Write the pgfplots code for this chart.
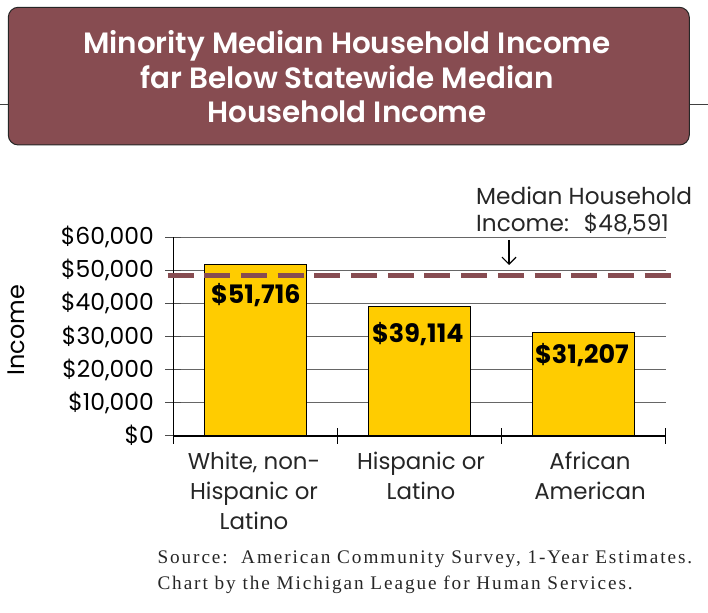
\documentclass[border=0pt]{standalone}
\usepackage{fontspec}
\setmainfont{Poppins}
\newfontfamily\srcfont{Liberation Serif}[LetterSpace=10]
\newfontfamily\titlefont{Poppins SemiBold}
\usepackage{pgfplots}
\pgfplotsset{compat=1.18}
\usetikzlibrary{arrows.meta}
\definecolor{titlebg}{RGB}{135,76,81}
\definecolor{barfill}{RGB}{255,204,0}
\begin{document}
\begin{tikzpicture}[x=1bp,y=1bp]
\path[use as bounding box] (0,0) rectangle (708,613);
% line behind title box
\draw[black!75, line width=0.9bp] (0,509) -- (708,509);
\draw[fill=titlebg, draw=black!85, line width=1bp, rounded corners=10bp] (8.3,605.7) rectangle (689.3,468);
\begin{scope}[every node/.style={anchor=base, text=white, inner sep=0, font=\titlefont\fontsize{29.5}{29.5}\selectfont}]
\node at (347,559.7) {Minority Median Household Income};
\node at (347,524.7) {far Below Statewide Median};
\node at (347,490.7) {Household Income};
\end{scope}
\begin{axis}[
  at={(173.3bp,177.3bp)}, anchor=south west,
  scale only axis, width=492.4bp, height=198.4bp,
  xmin=0, xmax=3, ymin=0, ymax=60000,
  clip=false,
  axis x line*=bottom, axis y line*=left,
  x axis line style={line width=2bp},
  y axis line style={line width=1bp},
  xtick={0,1,2,3}, xticklabels={},
  ytick={0,10000,20000,30000,40000,50000,60000},
  yticklabels={{\$0},{\$10,000},{\$20,000},{\$30,000},{\$40,000},{\$50,000},{\$60,000}},
  scaled y ticks=false,
  /pgf/number format/assume math mode=true,
  major tick length=16bp, tick align=center,
  x tick style={black, line width=1.3bp},
  y tick style={black!70, line width=0.8bp},
  ymajorgrids, grid style={black!60, line width=0.8bp},
  yticklabel style={font=\fontsize{23.5}{23.5}\selectfont, anchor=east, xshift=-8bp},
]
\addplot[ybar, bar width=0.621, fill=barfill, draw=black, line width=1.5bp]
  coordinates {(0.5,51716) (1.5,39114) (2.5,31207)};
\addplot[titlebg, line width=5bp, dash pattern=on 26bp off 10.7bp]
  coordinates {(-0.035,48591) (3.04,48591)};
\node[font=\fontsize{25.5}{25.5}\selectfont\bfseries] at (axis cs:0.503,42550) {\$51,716};
\node[font=\fontsize{25.5}{25.5}\selectfont\bfseries] at (axis cs:1.49,30760) {\$39,114};
\node[font=\fontsize{25.5}{25.5}\selectfont\bfseries] at (axis cs:2.49,24310) {\$31,207};
\end{axis}
% y label
\node[rotate=90, font=\fontsize{24}{24}\selectfont] at (16.5,283) {Income};
% category labels
\begin{scope}[every node/.style={anchor=base, inner sep=0, font=\fontsize{23}{23}\selectfont, text=black!85}]
\node at (254,143.7) {White, non-};
\node at (254,113.7) {Hispanic or};
\node at (254,83) {Latino};
\node at (421,143.7) {Hispanic or};
\node at (421,113.7) {Latino};
\node at (590,143.7) {African};
\node at (590,113.7) {American};
% annotation
\node[anchor=base west, font=\fontsize{23.3}{23.3}\selectfont] at (476,408.5) {Median Household};
\node[anchor=base west, font=\fontsize{23.3}{23.3}\selectfont] at (476,381.3) {Income:\hspace{15bp}\$48,591};
\end{scope}
\draw[-{Straight Barb[length=7bp,width=14bp]}, line width=1.2bp] (509,373) -- (509,348);
% source
\begin{scope}[every node/.style={anchor=base west, inner sep=0, font=\srcfont\fontsize{19.3}{19.3}\selectfont, text=black!85}]
\node at (157.3,49.7) {Source:\ \ American Community Survey, 1-Year Estimates.};
\node at (157.3,23) {Chart by the Michigan League for Human Services.};
\end{scope}
\end{tikzpicture}
\end{document}
